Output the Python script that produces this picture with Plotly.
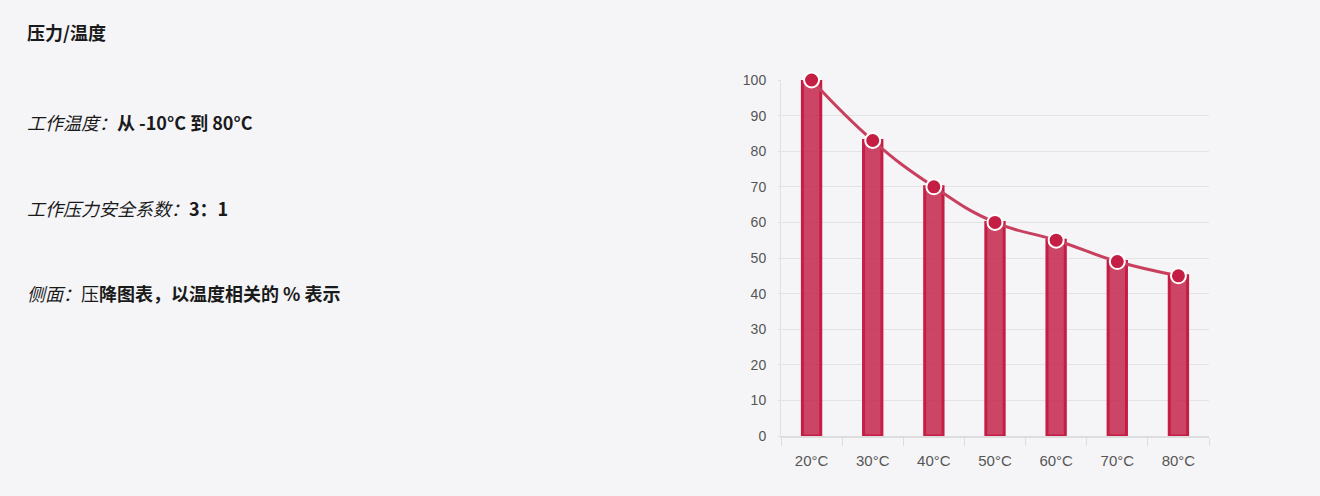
import plotly.graph_objects as go

categories = ["20°C", "30°C", "40°C", "50°C", "60°C", "70°C", "80°C"]
values = [100, 83, 70, 60, 55, 49, 45]
y_ticks = [0, 10, 20, 30, 40, 50, 60, 70, 80, 90, 100]

W, H = 1320, 496
BG = "#f5f5f8"
RED = "#c41e45"
FILL = "rgba(196,30,69,0.82)"
LINE = "#c9405f"
FONT = "Noto Sans CJK SC, Noto Sans, sans-serif"

fig = go.Figure()
fig.add_trace(go.Bar(
    x=categories, y=values, width=0.3,
    marker=dict(color=FILL, line=dict(color=RED, width=3)),
    hoverinfo="skip",
))
fig.add_trace(go.Scatter(
    x=categories, y=values, mode="lines+markers",
    line=dict(color=LINE, width=3, shape="spline", smoothing=1.3),
    marker=dict(size=15, color=RED, line=dict(color="white", width=2)),
    cliponaxis=False,
))

x0, x1 = 781, 1209
yt, yb = 80, 436
fig.update_layout(
    width=W, height=H,
    paper_bgcolor=BG, plot_bgcolor=BG,
    margin=dict(l=0, r=0, t=0, b=0, autoexpand=False),
    showlegend=False,
    font=dict(family=FONT, color="#222"),
    xaxis=dict(
        domain=[x0 / W, x1 / W], range=[-0.5, 6.5],
        type="category", tickson="boundaries", automargin=False,
        ticks="outside", ticklen=8, tickcolor="#dddddd",
        showline=True, linecolor="#dddddd", linewidth=2,
        showgrid=False, zeroline=False, ticklabelstandoff=10,
        tickfont=dict(family="Liberation Sans, Arial, sans-serif", size=15, color="#555"),
    ),
    yaxis=dict(
        domain=[(H - yb) / H, (H - yt) / H], range=[0, 100],
        tickvals=y_ticks, automargin=False,
        ticks="outside", ticklen=2, tickcolor="#e0e0e0",
        showline=True, linecolor="#e0e0e0", linewidth=1,
        gridcolor="#e3e3e6", gridwidth=1, zeroline=False, ticklabelstandoff=9,
        tickfont=dict(family="Liberation Sans, Arial, sans-serif", size=14, color="#555"),
    ),
)

texts = [
    (32, "<b>压力/温度</b>"),
    (122, "<i>工作温度：</i><b>从 -10°C 到 80°C</b>"),
    (208, "<i>工作压力安全系数：</i><b>3：1</b>"),
    (293, "<i>侧面：</i>压<b>降图表，以温度相关的 % 表示</b>"),
]
for ypx, t in texts:
    fig.add_annotation(
        x=25 / W, y=1 - ypx / H, xref="paper", yref="paper",
        xanchor="left", yanchor="middle", showarrow=False,
        text=t, font=dict(family=FONT, size=18, color="#1a1a1a"),
    )

fig.write_html(
    "out.html",
    config={"displayModeBar": False},
    post_script="document.body.style.margin='0';document.body.style.overflow='hidden';",
)
